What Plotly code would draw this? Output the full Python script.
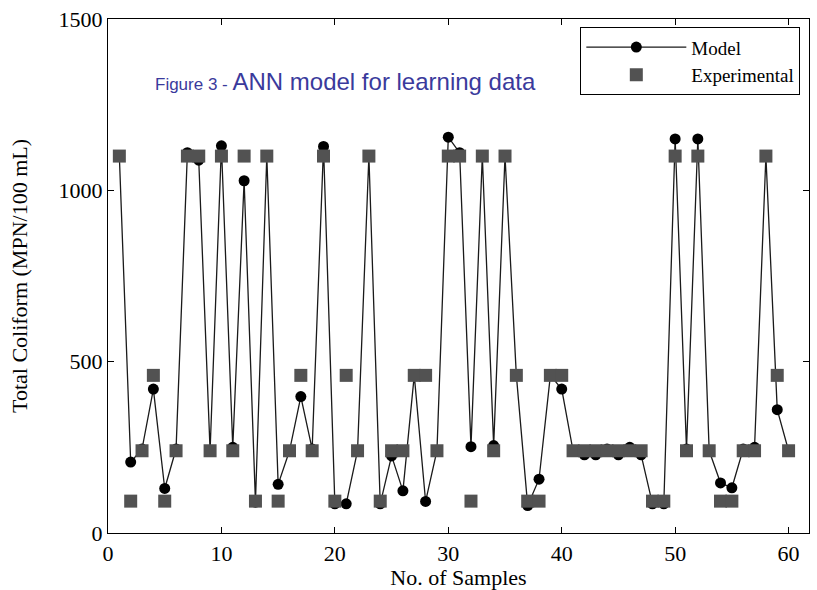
import plotly.graph_objects as go

samples = list(range(1, 61))
model = [1100, 207, 245, 420, 130, 245, 1110, 1088, 240, 1130,
         250, 1028, 90, 1100, 142, 240, 398, 245, 1128, 85,
         85, 240, 1100, 85, 225, 123, 460, 92, 240, 1155,
         1110, 252, 1100, 255, 1100, 460, 80, 157, 460, 420,
         240, 228, 228, 245, 228, 250, 228, 85, 85, 1150,
         245, 1150, 240, 146, 132, 245, 250, 1100, 360, 240]
experimental = [1100, 93, 240, 460, 93, 240, 1100, 1100, 240, 1100,
                240, 1100, 93, 1100, 93, 240, 460, 240, 1100, 93,
                460, 240, 1100, 93, 240, 240, 460, 460, 240, 1100,
                1100, 93, 1100, 240, 1100, 460, 93, 93, 460, 460,
                240, 240, 240, 240, 240, 240, 240, 93, 93, 1100,
                240, 1100, 240, 93, 93, 240, 240, 1100, 460, 240]
x_ticks = [0, 10, 20, 30, 40, 50, 60]
y_ticks = [0, 500, 1000, 1500]

serif = "Liberation Serif, Times New Roman, serif"

L, R, T, B = 108, 7, 17, 57
W, H = 817, 590
pw, ph = W - L - R, H - T - B

fig = go.Figure()
fig.add_trace(go.Scatter(
    x=samples, y=model, name="Model", mode="lines+markers",
    line=dict(color="#1a1a1a", width=1.3),
    marker=dict(symbol="circle", size=11, color="black"),
))
fig.add_trace(go.Scatter(
    x=samples, y=experimental, name="Experimental", mode="markers",
    marker=dict(symbol="square", size=13, color="#525252"),
))

axis_common = dict(
    showline=True, linecolor="black", linewidth=1.3, mirror="ticks",
    ticks="inside", ticklen=6, tickwidth=1.2, tickcolor="black",
    showgrid=False, zeroline=False,
    tickfont=dict(family=serif, size=22, color="black"),
)

fig.update_xaxes(range=[0, 61.8], tickvals=x_ticks,
                 title=dict(text="No. of Samples", font=dict(family=serif, size=22, color="black"), standoff=0),
                 **axis_common)
fig.update_yaxes(range=[0, 1500], tickvals=y_ticks,
                 title=dict(text="Total Coliform (MPN/100 mL)", font=dict(family=serif, size=22, color="black"), standoff=24),
                 **axis_common)

fig.add_annotation(
    x=(153 - L) / pw, y=(H - B - 80) / ph, xref="paper", yref="paper", showarrow=False,
    text="<span style='font-size:17px'>Figure 3 - </span>ANN model for learning data",
    font=dict(family="Liberation Sans, Arial, sans-serif", size=24, color="#3a3a9c"),
    xanchor="left", yanchor="middle",
)

fig.update_layout(
    width=W, height=H,
    margin=dict(l=L, r=R, t=T, b=B),
    paper_bgcolor="white", plot_bgcolor="white",
    showlegend=True,
    legend=dict(
        x=(801 - L) / pw, y=(H - B - 25) / ph, xanchor="right", yanchor="top",
        bgcolor="white", bordercolor="black", borderwidth=1.3,
        font=dict(family=serif, size=19, color="black"),
        itemwidth=100, tracegroupgap=0,
    ),
)

fig.write_html("out.html")
